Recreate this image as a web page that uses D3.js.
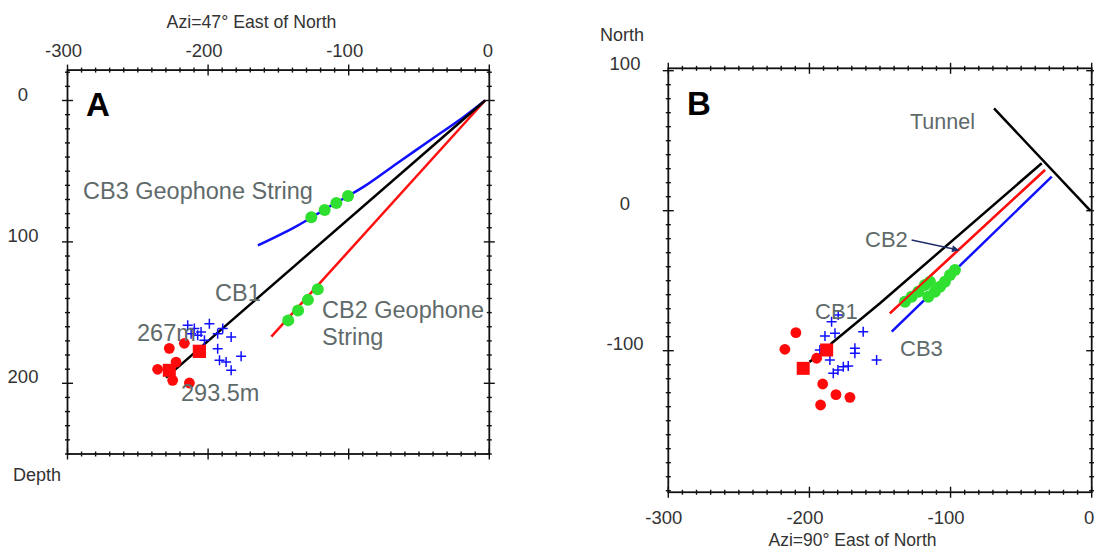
<!DOCTYPE html>
<html>
<head>
<meta charset="utf-8">
<script src="https://cdn.jsdelivr.net/npm/d3@7"></script>
<style>
  html, body { margin: 0; padding: 0; background: #fff; }
  svg { display: block; }
</style>
</head>
<body>
<svg id="chart" width="1094" height="551"></svg>
<script>
// ---------------- DATA ----------------
// Panel A: section along azimuth 47° (x = horizontal distance, y = depth)
const aXTicks = [-300, -200, -100, 0];
const aYTicks = [0, 100, 200];
const aCB1 = [[-3, 0], [-230, 196]];
const aCB2 = [[-3, 0], [-155, 167]];
const aCB3 = [[-3, 0], [-18.5, 11.8], [-42.3, 28.3], [-66, 44.7], [-89.8, 61.3], [-113.7, 75], [-137.3, 89], [-164.6, 102.5]];
const aGeoCB3 = [[-126.6, 82.5], [-117.1, 77.5], [-108.8, 72.5], [-100.5, 67.5]];
const aGeoCB2 = [[-143, 155.5], [-136, 148.5], [-129, 141], [-122, 133.5]];
const aRedSquares = [[-206.2, 177.4], [-227.6, 190.8]];
const aRedDots = [[-227.6, 175.3], [-216.9, 171.7], [-222.8, 185], [-235.9, 190.1], [-225.2, 197.9], [-213.3, 199.8]];
const aCrosses = [[-214.5, 159], [-209.8, 161.3], [-205, 163.7], [-199.1, 157.8], [-212.1, 164.9], [-207.4, 166.1],
  [-193.2, 164.9], [-189.6, 161.3], [-183.6, 167.3], [-202.6, 169.6], [-193.2, 175.5], [-176.5, 180.9],
  [-191.9, 183.7], [-187.2, 184.9], [-183.6, 190.8]];

// Panel B: plan view (x = East, y = North)
const bXTicks = [-300, -200, -100, 0];
const bYTicks = [100, 0, -100];
const bTunnel = [[-69.2, 73.1], [-1, 0]];
const bCB1 = [[-35.4, 33.9], [-150, -66.1], [-184.3, -94.7], [-187.8, -99.5], [-200, -108]];
const bCB2 = [[-33.1, 29.1], [-143, -73.3]];
const bCB3 = [[-28.3, 24.3], [-141.7, -86.4]];
const bGeoCB2 = [[-132.3, -65], [-127.6, -61.4], [-122.9, -57.9], [-118.2, -53.1], [-114.6, -50.7]];
const bGeoCB3 = [[-115.8, -61.4], [-111.1, -57.9], [-107.5, -54.3], [-104, -50.7], [-100.4, -45.9], [-96.9, -42.4]];
const bRedSquares = [[-187.8, -99.5], [-204.4, -112.6]];
const bRedDots = [[-209.6, -87.1], [-217.4, -99], [-194.9, -105.4], [-190.6, -123.8], [-181.2, -131.4], [-171.3, -133.3], [-192.1, -138.8]];
const bCrosses = [[-184.3, -79.3], [-179.6, -74.5], [-189, -89.5], [-181.9, -87.6], [-161.9, -86.4], [-192.6, -99.5],
  [-185.5, -106.6], [-167.8, -98.3], [-167.8, -101.9], [-152.4, -106.6], [-176, -111.4], [-172.5, -110.9],
  [-183.1, -116.1], [-179.8, -113.8]];
const bArrow = [[-127.6, -20.9], [-94.5, -28.1]];

// ---------------- DRAW ----------------
const FONT = "'Liberation Sans', Arial, Helvetica, sans-serif";
const TXT = "#5f6a6a";
const AX = "#333";
const svg = d3.select("#chart");
svg.append("rect").attr("width", 1094).attr("height", 551).attr("fill", "#fff");

const defs = svg.append("defs");
defs.append("marker").attr("id", "arr").attr("viewBox", "0 0 10 10")
  .attr("refX", 9).attr("refY", 5).attr("markerWidth", 8).attr("markerHeight", 7)
  .attr("orient", "auto").attr("markerUnits", "userSpaceOnUse")
  .append("path").attr("d", "M0,0 L10,5 L0,10 Z").attr("fill", "#1f2f6a");

function frame(g, x, y, xd, yd, xMajor, yMajor) {
  const x0 = x(xd[0]), x1 = x(xd[1]), y0 = y(yd[0]), y1 = y(yd[1]);
  g.append("rect").attr("x", Math.min(x0, x1)).attr("y", Math.min(y0, y1))
    .attr("width", Math.abs(x1 - x0)).attr("height", Math.abs(y1 - y0))
    .attr("fill", "none").attr("stroke", "#111").attr("stroke-width", 1.8);
  const xs = d3.range(-300, 1, 10);
  const ymin = Math.ceil(Math.min(yd[0], yd[1]) / 10) * 10, ymax = Math.max(yd[0], yd[1]);
  const ys = d3.range(ymin, ymax + 0.01, 10);
  const tk = g.append("g").attr("stroke", "#111").attr("stroke-width", 1.4);
  xs.forEach(v => {
    const L = xMajor.includes(v) ? 5.5 : 2.5;
    [y0, y1].forEach(yy => tk.append("line").attr("x1", x(v)).attr("x2", x(v)).attr("y1", yy - L).attr("y2", yy + L));
  });
  ys.forEach(v => {
    const L = yMajor.includes(v) ? 5.5 : 2.5;
    [x0, x1].forEach(xx => tk.append("line").attr("y1", y(v)).attr("y2", y(v)).attr("x1", xx - L).attr("x2", xx + L));
  });
}

function txt(g, s, x, y, o) {
  o = o || {};
  return g.append("text").attr("x", x).attr("y", y).text(s)
    .attr("font-family", FONT).attr("font-size", o.size || 18.5)
    .attr("font-weight", o.weight || "normal")
    .attr("fill", o.fill || AX).attr("text-anchor", o.anchor || "start");
}

function drawSeries(g, x, y, s) {
  const line = d3.line().x(d => x(d[0])).y(d => y(d[1]));
  const lineC = d3.line().x(d => x(d[0])).y(d => y(d[1])).curve(d3.curveCatmullRom);
  s.lines.forEach(l => g.append("path").attr("d", (l.curve ? lineC : line)(l.data))
    .attr("fill", "none").attr("stroke", l.color).attr("stroke-width", 2.5).attr("stroke-linejoin", "round"));
  s.geo.forEach(arr => g.selectAll(null).data(arr).enter().append("circle")
    .attr("cx", d => x(d[0])).attr("cy", d => y(d[1])).attr("r", s.geoR).attr("fill", "#30e030"));
  g.selectAll(null).data(s.crosses).enter().append("path")
    .attr("d", d => `M${x(d[0]) - 5},${y(d[1])}h10M${x(d[0])},${y(d[1]) - 5}v10`)
    .attr("stroke", "#1010ff").attr("stroke-width", 1.5);
  g.selectAll(null).data(s.dots).enter().append("circle")
    .attr("cx", d => x(d[0])).attr("cy", d => y(d[1])).attr("r", 5.4).attr("fill", "#ff0a0a");
  g.selectAll(null).data(s.squares).enter().append("rect")
    .attr("x", d => x(d[0]) - 6.5).attr("y", d => y(d[1]) - 6.5).attr("width", 13).attr("height", 13).attr("fill", "#ff0a0a");
}

// ----- Panel A -----
const gA = svg.append("g");
const xA = d3.scaleLinear().domain([-300, 0]).range([67.5, 489.3]);
const yA = d3.scaleLinear().domain([0, 250]).range([100.5, 454]);
frame(gA, xA, yA, [-300, 0], [-21.5, 250], aXTicks, aYTicks);
aXTicks.forEach(v => txt(gA, String(v), xA(v) - (v < 0 ? 4 : 1.5), 57, { anchor: "middle" }));
aYTicks.forEach(v => txt(gA, String(v), 23, yA(v), { anchor: "middle" }));
txt(gA, "Azi=47° East of North", 251.5, 28, { anchor: "middle", size: 17.7 });
txt(gA, "Depth", 13, 481, { size: 18 });
txt(gA, "A", 86, 116, { size: 33, weight: "bold", fill: "#000" });
drawSeries(gA, xA, yA, {
  lines: [{ data: aCB3, color: "#1010ff", curve: true }, { data: aCB2, color: "#ff1010" }, { data: aCB1, color: "#000" }],
  geo: [aGeoCB3, aGeoCB2], geoR: 6,
  crosses: aCrosses, dots: aRedDots, squares: aRedSquares
});
txt(gA, "CB3 Geophone String", 83, 199, { size: 23.5, fill: TXT });
txt(gA, "CB1", 215, 301, { size: 23.5, fill: TXT });
txt(gA, "CB2 Geophone", 322, 318, { size: 23.5, fill: TXT });
txt(gA, "String", 322, 345, { size: 23.5, fill: TXT });
txt(gA, "267m", 137, 341, { size: 23.5, fill: TXT });
txt(gA, "293.5m", 181, 401, { size: 23.5, fill: TXT });
// redraw the square on top of label
gA.append("rect").attr("x", xA(aRedSquares[0][0]) - 6.5).attr("y", yA(aRedSquares[0][1]) - 6.5)
  .attr("width", 13).attr("height", 13).attr("fill", "#ff0a0a");

// ----- Panel B -----
const gB = svg.append("g");
const xB = d3.scaleLinear().domain([-300, 0]).range([668.3, 1091.7]);
const yB = d3.scaleLinear().domain([-200, 100]).range([490.7, 70.7]);
frame(gB, xB, yB, [-300, 0], [-201.1, 101.7], bXTicks, bYTicks);
bXTicks.forEach(v => txt(gB, String(v), xB(v) - (v < 0 ? 4.5 : 2.5), 524, { anchor: "middle" }));
bYTicks.forEach(v => txt(gB, String(v), 625, yB(v) - 1, { anchor: "middle" }));
txt(gB, "North", 600, 41, { size: 18 });
txt(gB, "Azi=90° East of North", 852.5, 546, { anchor: "middle", size: 17.5 });
txt(gB, "B", 687, 115, { size: 33, weight: "bold", fill: "#000" });
drawSeries(gB, xB, yB, {
  lines: [{ data: bTunnel, color: "#000" }, { data: bCB3, color: "#1010ff" }, { data: bCB2, color: "#ff1010" }, { data: bCB1, color: "#000" }],
  geo: [bGeoCB2, bGeoCB3], geoR: 6,
  crosses: bCrosses, dots: bRedDots, squares: bRedSquares
});
// red line over the green geophone band, as in the reference
gB.append("path").attr("d", d3.line().x(d => xB(d[0])).y(d => yB(d[1]))(bCB2))
  .attr("fill", "none").attr("stroke", "#ff1010").attr("stroke-width", 2);
txt(gB, "Tunnel", 910, 129, { size: 21.5, fill: TXT });
txt(gB, "CB2", 865, 247, { size: 22, fill: TXT });
txt(gB, "CB1", 815, 319, { size: 22, fill: TXT });
txt(gB, "CB3", 900, 356, { size: 22, fill: TXT });
gB.append("line").attr("x1", xB(bArrow[0][0])).attr("y1", yB(bArrow[0][1]))
  .attr("x2", xB(bArrow[1][0])).attr("y2", yB(bArrow[1][1]))
  .attr("stroke", "#1f2f6a").attr("stroke-width", 1.5).attr("marker-end", "url(#arr)");
</script>
</body>
</html>
